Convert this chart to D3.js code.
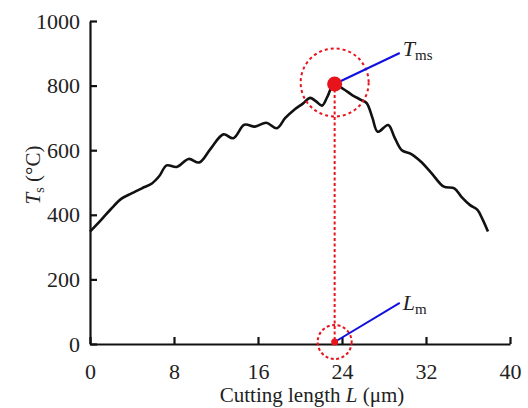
<!DOCTYPE html>
<html>
<head>
<meta charset="utf-8">
<script src="https://cdn.jsdelivr.net/npm/d3@7"></script>
<style>
  body { margin: 0; background: #fff; }
  svg text { font-family: "Liberation Serif", "Times New Roman", serif; fill: #222; }
</style>
</head>
<body>
<script>
// cutting length L (um) and temperature Ts (degC)
var lengthL = [0, 1, 2, 3, 4, 5, 5.9, 6.6, 7.3, 8.25, 9.4, 10.4, 11.5, 12.7, 13.65, 14.7, 15.7, 16.8, 17.8,
               18.6, 19.4, 20.3, 20.95, 21.5, 22.1, 22.6, 23.2, 24.1, 25.0, 25.8, 26.35, 26.9, 27.4, 28.4,
               29.0, 29.7, 30.6, 31.5, 32.5, 33.7, 34.7, 35.4, 36.2, 36.9, 37.4, 37.9];
var tempT   = [348, 382, 418, 450, 467, 483, 497, 520, 553, 548, 573, 562, 605, 649, 637, 679, 673, 685, 668,
               700, 724, 745, 762, 752, 738, 765, 802, 790, 770, 756, 746, 700, 657, 678,
               640, 600, 588, 565, 530, 487, 482, 455, 430, 415, 385, 348];
var xTicks = [0, 8, 16, 24, 32, 40];
var yTicks = [0, 200, 400, 600, 800, 1000];
var peakL = 23.3, peakT = 805;   // T_ms / L_m marker
var labelL = 29.5;               // where the blue leader lines end
var tmsLabelT = 901, lmLabelT = 127;

var W = 528, H = 408;
var serif = "'Liberation Serif','Times New Roman',serif";
var svg = d3.select("body").append("svg").attr("width", W).attr("height", H);

var x = d3.scaleLinear().domain([0, 40]).range([90, 510]);
var y = d3.scaleLinear().domain([0, 1000]).range([344, 21]);

// axes, ticks point inward
var xAxis = d3.axisBottom(x).tickValues(xTicks).tickFormat(d3.format("d"))
  .tickSizeInner(-7).tickSizeOuter(0).tickPadding(19);
var yAxis = d3.axisLeft(y).tickValues(yTicks).tickFormat(d3.format("d"))
  .tickSizeInner(-7).tickSizeOuter(0).tickPadding(10);

var gx = svg.append("g").attr("transform", "translate(0,344)").call(xAxis);
var gy = svg.append("g").attr("transform", "translate(90,0)").call(yAxis);
[gx, gy].forEach(function(g){
  g.attr("font-family", serif).attr("font-size", 22);
  g.selectAll("path, line").attr("stroke", "#111").attr("stroke-width", 2.2);
  g.selectAll("text").attr("fill", "#222");
});

// the curve
var line = d3.line()
  .x(function(d, i){ return x(lengthL[i]); })
  .y(function(d){ return y(d); })
  .curve(d3.curveCatmullRom.alpha(0.5));
svg.append("path").datum(tempT)
  .attr("d", line)
  .attr("fill", "none")
  .attr("stroke", "#111")
  .attr("stroke-width", 2.6)
  .attr("stroke-linejoin", "round");

var red = "#e8141c";
// vertical dashed line from peak to axis
svg.append("line")
  .attr("x1", x(peakL)).attr("x2", x(peakL))
  .attr("y1", y(peakT)).attr("y2", y(0))
  .attr("stroke", red).attr("stroke-width", 2).attr("stroke-dasharray", "3,2.5");
// dashed circles
svg.append("circle").attr("cx", x(peakL)).attr("cy", y(peakT) - 1.5).attr("r", 34)
  .attr("fill", "none").attr("stroke", red).attr("stroke-width", 2).attr("stroke-dasharray", "3,3");
svg.append("circle").attr("cx", x(peakL)).attr("cy", y(0) - 2).attr("r", 17)
  .attr("fill", "none").attr("stroke", red).attr("stroke-width", 2).attr("stroke-dasharray", "3,2.5");

// blue leaders
svg.append("line").attr("x1", x(peakL)).attr("y1", y(peakT)).attr("x2", x(labelL)).attr("y2", y(tmsLabelT))
  .attr("stroke", "#1010e0").attr("stroke-width", 2);
svg.append("line").attr("x1", x(peakL)).attr("y1", y(0) - 2).attr("x2", x(labelL)).attr("y2", y(lmLabelT))
  .attr("stroke", "#1010e0").attr("stroke-width", 2);

// dots
svg.append("circle").attr("cx", x(peakL)).attr("cy", y(peakT)).attr("r", 7.5).attr("fill", red);
svg.append("circle").attr("cx", x(peakL)).attr("cy", y(0) - 2).attr("r", 3.5).attr("fill", red);

// labels T_ms and L_m
var tms = svg.append("text").attr("x", x(labelL) + 3).attr("y", y(tmsLabelT) + 3).attr("font-size", 22);
tms.append("tspan").attr("font-style", "italic").text("T");
tms.append("tspan").attr("font-size", 15).attr("dy", 4).text("ms");

var lm = svg.append("text").attr("x", x(labelL) + 3).attr("y", y(lmLabelT) + 7).attr("font-size", 22);
lm.append("tspan").attr("font-style", "italic").text("L");
lm.append("tspan").attr("font-size", 15).attr("dy", 4).text("m");

// axis titles
var xt = svg.append("text").attr("x", 312).attr("y", 402).attr("text-anchor", "middle").attr("font-size", 21);
xt.append("tspan").text("Cutting length ");
xt.append("tspan").attr("font-style", "italic").text("L");
xt.append("tspan").text(" (\u03bcm)");

var yt = svg.append("text").attr("transform", "translate(40,175) rotate(-90)")
  .attr("text-anchor", "middle").attr("font-size", 21);
yt.append("tspan").attr("font-style", "italic").text("T");
yt.append("tspan").attr("font-size", 14).attr("dy", 4).text("s");
yt.append("tspan").attr("dy", -4).text(" (\u00b0C)");
</script>
</body>
</html>
